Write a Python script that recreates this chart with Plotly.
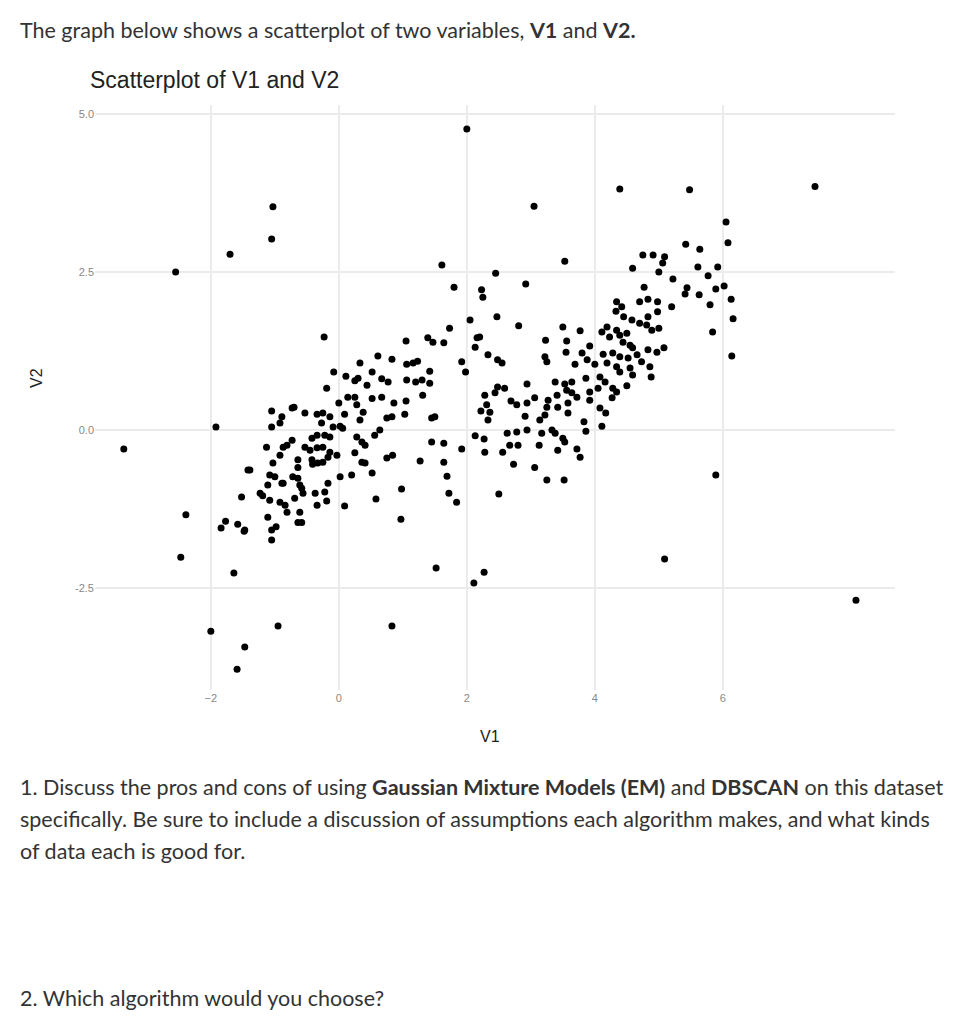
import plotly.graph_objects as go

pts = [
(-0.23,1.47),(1.05,1.41),(1.39,1.46),(1.47,1.39),(1.64,1.38),(1.73,1.61),(0.61,1.17),(0.83,1.12),(0.33,1.06),
(1.06,1.04),(1.16,1.06),(1.23,1.09),(1.42,0.93),(1.92,1.08),(1.98,0.92),(-0.08,0.92),(0.52,0.92),(0.11,0.85),
(0.25,0.78),(0.30,0.82),(0.44,0.71),(0.67,0.81),(0.77,0.76),(1.06,0.79),(1.2,0.76),(1.3,0.79),(1.42,0.74),
(-0.19,0.66),(1.31,0.55),(0.14,0.52),(0.25,0.52),(0.52,0.5),(0.67,0.52),(0,0.43),(0.28,0.4),(0.86,0.43),(1.05,0.46),
(-1.05,0.3),(-0.73,0.35),(-0.7,0.36),(-0.53,0.27),(-0.34,0.25),(-0.25,0.27),(-0.14,0.21),(0.09,0.25),(0.38,0.28),
(0.33,0.16),(1.03,0.25),(1.45,0.19),(1.5,0.21),(0.75,0.19),(0.83,0.21),(-0.89,0.21),(-0.92,0.11),(-1.05,0.05),
(-0.27,0.11),(-0.09,0.05),(0.02,0.06),(0.06,0.03),(0.64,0),(0.56,-0.08),(-0.34,-0.08),(-0.42,-0.13),(-0.22,-0.08),
(-0.14,-0.11),(0.28,-0.11),(0.36,-0.19),(0.41,-0.24),(-0.73,-0.16),(-0.81,-0.24),(-0.87,-0.27),(-1.13,-0.27),
(1.45,-0.19),(1.64,-0.21),(1.92,-0.3),(-0.53,-0.27),(-0.45,-0.32),(-0.34,-0.28),(-0.25,-0.27),(-0.14,-0.35),(-0.03,-0.4),
(-0.92,-0.4),(-1.03,-0.52),(-0.64,-0.47),(-0.64,-0.59),(-0.42,-0.47),(-0.41,-0.54),(-0.25,-0.51),(-0.17,-0.43),(-0.33,-0.52),
(0.25,-0.36),(0.36,-0.51),(0.41,-0.52),(0.75,-0.44),(0.84,-0.4),(1.27,-0.49),(1.64,-0.51),(-1.42,-0.63),
(-1.08,-0.71),(-1.0,-0.74),(-0.87,-0.84),(-0.72,-0.74),(-0.64,-0.76),(-0.61,-0.87),(0.52,-0.68),(0.2,-0.71),(0.02,-0.74),
(1.69,-0.73),(-1.11,-0.87),(-1.23,-1.0),(-1.19,-1.04),(-1.52,-1.06),(-0.89,-0.84),(-0.56,-1.0),(-0.58,-0.92),(-0.69,-1.08),
(-0.37,-1.0),(-0.17,-0.84),(-0.22,-0.98),(0.98,-0.93),(1.72,-1.0),(-1.08,-1.11),(-0.92,-1.14),(-0.84,-1.19),(-0.81,-1.3),
(-0.34,-1.19),(-0.19,-1.12),(0.09,-1.2),(0.58,-1.09),(1.84,-1.14),(-1.11,-1.38),(-0.61,-1.3),(-0.64,-1.46),(-0.58,-1.46),
(-1.05,-1.58),(-0.98,-1.53),(-1.05,-1.74),(-1.47,-1.58),(0.97,-1.41),
(6.05,3.29),(6.08,2.96),(5.42,2.94),(5.64,2.86),(4.75,2.77),(4.91,2.77),(5.09,2.74),(5.06,2.64),(4.59,2.56),(5.0,2.5),
(5.22,2.39),(5.61,2.58),(5.77,2.44),(5.92,2.58),(5.89,2.23),(6.02,2.28),(6.13,2.07),(6.16,1.76),(5.44,2.25),(5.41,2.15),
(5.63,2.14),(5.8,1.98),(5.84,1.55),(6.14,1.17),(4.77,2.26),(4.7,2.03),(4.83,2.07),(4.98,2.03),(5.2,1.95),(4.98,1.87),
(4.83,1.79),(4.34,2.03),(4.42,1.95),(4.33,1.88),(4.45,1.79),(4.58,1.74),(4.7,1.69),(4.81,1.66),(4.89,1.58),(5.0,1.61),
(4.11,1.55),(4.19,1.63),(4.23,1.47),(4.34,1.58),(4.39,1.5),(4.5,1.53),(4.44,1.39),(4.55,1.34),(4.59,1.3),(4.83,1.27),
(4.97,1.23),(5.08,1.3),(4.13,1.2),(4.28,1.22),(4.39,1.16),(4.52,1.14),(4.66,1.19),(4.19,1.06),(4.34,1.0),(4.39,0.92),
(4.55,0.98),(4.73,1.08),(4.86,1.0),(4.59,0.87),(4.88,0.84),(4.5,0.7),(3.92,1.33),(3.8,1.22),(3.88,1.11),(3.69,1.04),
(4.0,1.04),(3.77,1.57),(3.5,1.63),(3.56,1.41),(3.23,1.42),(3.55,1.23),(3.22,1.16),(3.25,1.08),(3.86,0.82),(4.08,0.84),
(4.16,0.76),(3.92,0.6),(4.05,0.66),(4.28,0.66),(4.34,0.6),(4.27,0.51),(3.92,0.47),(4.08,0.35),(4.17,0.27),(4.11,0.06),
(3.38,0.76),(3.53,0.73),(3.64,0.76),(3.56,0.63),(3.64,0.59),(3.72,0.52),(3.41,0.55),(3.58,0.43),(3.58,0.27),(3.42,0.36),
(3.27,0.47),(3.25,0.36),(3.22,0.24),(3.14,0.16),(2.94,0.73),(3.06,0.51),(2.94,0.43),(2.69,0.46),(2.78,0.4),(2.91,0.22),
(2.48,0.68),(2.59,0.66),(2.44,0.59),(2.28,0.55),(2.31,0.4),(2.22,0.3),(2.36,0.28),(2.33,0.16),(2.63,-0.05),(2.78,-0.03),
(2.94,0),(2.8,-0.24),(2.67,-0.24),(2.56,-0.35),(2.73,-0.54),(3.06,-0.59),(3.17,-0.05),(3.33,0),(3.38,-0.05),(3.5,-0.13),
(3.53,-0.19),(3.42,-0.32),(3.72,-0.3),(3.77,-0.43),(3.13,-0.24),(3.83,0.13),(3.86,-0.02),(3.25,-0.79),(3.52,-0.79),
(2.5,-1.01),(5.89,-0.71),(2.13,-0.09),(2.27,-0.14),(2.28,-0.35),(2.92,2.31),(2.47,1.79),(2.81,1.65),(2.45,2.48),(3.53,2.67),
(2.23,2.22),(2.25,2.1),(2.05,1.74),(2.2,1.47),(2.16,1.46),(2.13,1.31),(1.61,2.61),(1.8,2.26),(2.33,1.19),(2.48,1.11),(2.55,1.06),
(-3.36,-0.3),(-2.55,2.5),(-1.7,2.78),(-1.03,3.53),(-1.05,3.02),(-1.92,0.05),(-2.39,-1.34),(-2.47,-2.01),(-2.0,-3.18),
(-1.59,-3.78),(-1.47,-3.43),(-1.64,-2.26),(-0.95,-3.1),(0.83,-3.1),(1.52,-2.18),(2.11,-2.42),(2.27,-2.25),(2.0,4.76),
(3.05,3.54),(4.39,3.81),(5.48,3.8),(7.44,3.85),(8.08,-2.69),(5.09,-2.04),
(-1.84,-1.55),(-1.77,-1.44),(-1.58,-1.49),(-1.48,-1.6),(-1.39,-0.63),
]
v1 = [p[0] for p in pts]
v2 = [p[1] for p in pts]
x_ticks = [-2, 0, 2, 4, 6]
y_ticks = [-2.5, 0.0, 2.5, 5.0]
y_tick_labels = ["-2.5", "0.0", "2.5", "5.0"]

fig = go.Figure(go.Scatter(x=v1, y=v2, mode="markers",
                           marker=dict(color="black", size=7), hoverinfo="skip"))

OFF = 8  # page body margin
PT, PB, PL, PR = 105, 690, 95, 895
H = PB - PT
W = PR - PL
def py(p): return (PB - p) / H
def px(p): return (p - PL) / W

txt = dict(family="Lato, sans-serif", size=21.5, color="#333")
anns = [
    dict(text="The graph below shows a scatterplot of two variables, <b>V1</b> and <b>V2.</b>",
         x=px(18), y=py(30)),
    dict(text="1. Discuss the pros and cons of using <b>Gaussian Mixture Models (EM)</b> and <b>DBSCAN</b> on this dataset",
         x=px(18), y=py(787)),
    dict(text="specifically. Be sure to include a discussion of assumptions each algorithm makes, and what kinds",
         x=px(18), y=py(819)),
    dict(text="of data each is good for.", x=px(18), y=py(851)),
    dict(text="2. Which algorithm would you choose?", x=px(18), y=py(998)),
]
annotations = [dict(xref="paper", yref="paper", xanchor="left", yanchor="middle",
                    showarrow=False, font=txt, **a) for a in anns]
annotations.append(dict(xref="paper", yref="paper", xanchor="left", yanchor="middle",
                        showarrow=False, text="Scatterplot of V1 and V2", x=px(88), y=py(80),
                        font=dict(family="Liberation Sans, Arial", size=23, color="#222")))
annotations.append(dict(xref="paper", yref="paper", xanchor="center", yanchor="middle",
                        showarrow=False, text="V1", x=px(490), y=py(736),
                        font=dict(family="Liberation Sans, Arial", size=16, color="#222")))
annotations.append(dict(xref="paper", yref="paper", xanchor="center", yanchor="middle",
                        showarrow=False, text="V2", x=px(36), y=py(378), textangle=-90,
                        font=dict(family="Liberation Sans, Arial", size=16, color="#222")))

fig.update_layout(
    width=971, height=1024, paper_bgcolor="white", plot_bgcolor="white",
    margin=dict(l=PL - OFF, r=971 - PR + OFF, t=PT - OFF, b=1024 - PB + OFF),
    showlegend=False, annotations=annotations,
    xaxis=dict(range=[-3.81, 8.69], tickvals=x_ticks, showgrid=True, gridcolor="#ebebeb",
               gridwidth=1.5, zeroline=False, showline=False, ticks="",
               tickfont=dict(family="Liberation Sans, Arial", size=11, color="#888")),
    yaxis=dict(range=[-4.11, 5.14], tickvals=y_ticks, ticktext=y_tick_labels, showgrid=True,
               gridcolor="#ebebeb", gridwidth=1.5, zeroline=False, showline=False, ticks="",
               tickfont=dict(family="Liberation Sans, Arial", size=11, color="#888")),
)
fig.write_html("out.html")
